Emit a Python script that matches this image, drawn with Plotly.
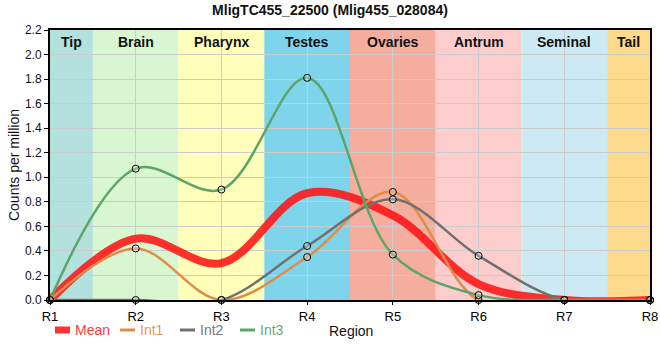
import plotly.graph_objects as go

# ---- data ----
regions = ["R1", "R2", "R3", "R4", "R5", "R6", "R7", "R8"]
mean_vals = [0.0, 0.50, 0.30, 0.87, 0.69, 0.13, 0.0, 0.0]
int1_vals = [0.0, 0.42, 0.0, 0.35, 0.88, 0.0, 0.0, 0.0]
int2_vals = [0.0, 0.0, 0.0, 0.44, 0.82, 0.36, 0.0, 0.0]
int3_vals = [0.0, 1.07, 0.90, 1.81, 0.37, 0.04, 0.0, 0.0]

band_names = ["Tip", "Brain", "Pharynx", "Testes", "Ovaries", "Antrum", "Seminal", "Tail"]
band_colors = ["#b3e1dd", "#d8f6d0", "#ffffb9", "#7ed5eb", "#f5ad9e", "#fdcccd", "#cdeaf4", "#fdd98b"]

xs = list(range(len(regions)))
FONT = "Liberation Sans, Arial"
W, H = 660, 360
ML, MR, MT, MB = 50, 10, 30, 60
PW, PH = W - ML - MR, H - MT - MB


def px_x(px):
    return (px - ML) / PW


def px_y(py):
    return (H - MB - py) / PH


fig = go.Figure()

# region bands
n = len(regions)
for i, (nm, col) in enumerate(zip(band_names, band_colors)):
    x0 = max(i - 0.5, 0)
    x1 = min(i + 0.5, n - 1)
    fig.add_shape(type="rect", xref="x", yref="paper", x0=x0, x1=x1, y0=0, y1=1,
                  fillcolor=col, line_width=0, layer="below")
    fig.add_annotation(x=(x0 + x1) / 2, y=1, xref="x", yref="paper", yanchor="top", yshift=-2,
                       text="<b>%s</b>" % nm, showarrow=False,
                       font=dict(size=14, color="#111111", family=FONT))

series = [
    ("Mean", mean_vals, "rgba(255,20,20,0.88)", 8, False, "#ff3a3a"),
    ("Int1", int1_vals, "#de8c48", 2.5, True, "#e8955c"),
    ("Int2", int2_vals, "#707070", 2.5, True, "#777788"),
    ("Int3", int3_vals, "#5ba568", 2.5, True, "#66a97a"),
]

for name, vals, col, w, mk, tcol in series:
    fig.add_trace(go.Scatter(
        x=xs, y=vals, mode="lines+markers" if mk else "lines", name=name,
        line=dict(color=col, width=w, shape="spline", smoothing=1.0),
        marker=dict(size=7, color="rgba(255,255,255,0.25)", line=dict(color="black", width=1)),
        showlegend=False, cliponaxis=False, hoverinfo="skip",
    ))

# legend row drawn below the plot (symbol + coloured label per series)
legend_x0 = [55, 120, 180, 240]
ly = px_y(330)
for (name, vals, col, w, mk, tcol), lx in zip(series, legend_x0):
    fig.add_shape(type="line", xref="paper", yref="paper",
                  x0=px_x(lx), x1=px_x(lx + 15), y0=ly, y1=ly,
                  line=dict(color=col, width=7 if not mk else 3))
    fig.add_annotation(text=name, x=px_x(lx + 18), xref="paper", xanchor="left",
                       y=ly, yref="paper", yanchor="middle", showarrow=False,
                       font=dict(size=14, color=tcol, family=FONT))

# x-axis title placed on the legend row
fig.add_annotation(text="Region", x=px_x(351), xref="paper", xanchor="center",
                   y=px_y(331), yref="paper", yanchor="middle",
                   showarrow=False, font=dict(size=14, color="#111111", family=FONT))

fig.update_layout(
    width=W, height=H,
    margin=dict(l=ML, r=MR, t=MT, b=MB),
    paper_bgcolor="white", plot_bgcolor="white",
    title=dict(text="<b>MligTC455_22500 (Mlig455_028084)</b>", x=0.5, xanchor="center",
               y=0.985, yanchor="top", font=dict(size=14, color="#111111", family=FONT)),
    font=dict(family=FONT, color="#111111"),
    showlegend=False,
)

fig.update_xaxes(
    range=[0, n - 1], tickmode="array", tickvals=xs, ticktext=regions,
    showgrid=True, gridcolor="#cccccc", gridwidth=1,
    showline=True, linecolor="black", linewidth=2, mirror=True,
    ticks="outside", ticklen=3, tickcolor="black",
    tickfont=dict(size=13, color="#000000"),
    zeroline=False, automargin=False,
)
fig.update_yaxes(
    range=[0, 2.2], tickmode="array", tickvals=[i * 0.2 for i in range(12)],
    tickformat=".1f", showgrid=True, gridcolor="#cccccc", gridwidth=1,
    showline=True, linecolor="black", linewidth=2, mirror=True,
    ticks="outside", ticklen=4, tickcolor="black",
    tickfont=dict(size=12, color="#111111"),
    title=dict(text="Counts per million", font=dict(size=14, color="#111111"), standoff=2),
    zeroline=False, automargin=False,
)

fig.write_html("out.html", config={"displayModeBar": False},
               post_script="document.body.style.margin='0';")
